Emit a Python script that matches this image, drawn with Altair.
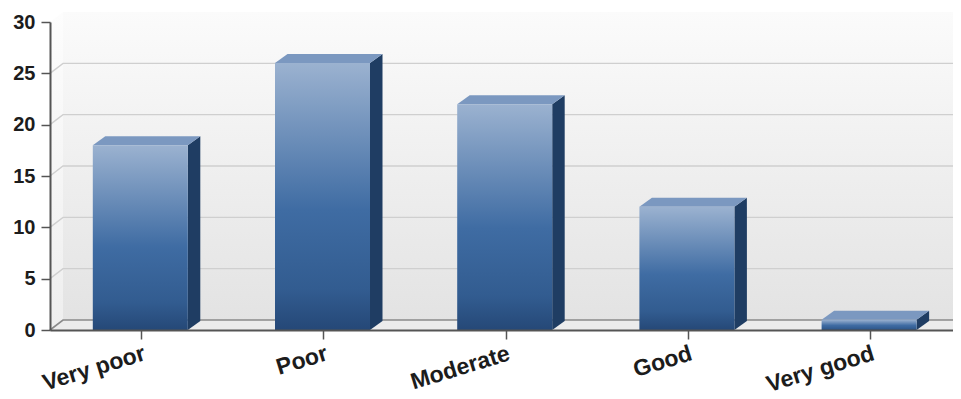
import altair as alt
import pandas as pd

categories = ["Very poor", "Poor", "Moderate", "Good", "Very good"]
values = [18, 26, 22, 12, 1]
y_ticks = [0, 5, 10, 15, 20, 25, 30]

WIDTH = 903
HEIGHT = 308
BAND = 182.2
PX_Y = HEIGHT / 30
DX = 13 / BAND            # depth of the walls, in x-scale units
DY = 10 / PX_Y            # depth of the walls, in y-scale units
BAR_DX = 12.5 / BAND      # depth of the bars
BAR_DY = 9 / PX_Y
HALF = 47.5 / BAND
BAR_SHIFT = -0.8 / BAND
NCAT = len(categories)
XMAX = WIDTH / BAND
YMAX = y_ticks[-1]

label_expr = "[" + ",".join(f"'{c}'" for c in categories) + "][floor(datum.value)]"
x_axis = alt.Axis(
    title=None, values=[i + 0.5 for i in range(NCAT)], labelExpr=label_expr,
    labelAngle=343, labelAlign="right", labelBaseline="top",
    labelFont="Liberation Sans", labelFontWeight="bold", labelFontSize=23,
    labelColor="#1c1c1c", labelPadding=3, labelOverlap=False, labelBound=False, labelFlush=False,
    tickSize=9, tickColor="#555555", tickWidth=1.5,
    domainColor="#555555", domainWidth=2, grid=False, zindex=1)
y_axis = alt.Axis(
    title=None, values=y_ticks, labelFont="Liberation Sans", labelFontWeight="bold",
    labelFontSize=20, labelColor="#1c1c1c", labelPadding=6,
    tickSize=9, tickColor="#555555", tickWidth=1.5,
    domainColor="#555555", domainWidth=2, grid=False, zindex=1)

x_scale = alt.Scale(domain=[0, XMAX], nice=False, zero=False)
y_scale = alt.Scale(domain=[0, YMAX], nice=False)
X = alt.X("x:Q", scale=x_scale, axis=x_axis)
Y = alt.Y("y:Q", scale=y_scale, axis=y_axis)
Y2 = alt.Y2("y2:Q")


def grad(stops, x1=0, x2=0, y1=0, y2=1):
    return alt.Gradient(
        gradient="linear", x1=x1, x2=x2, y1=y1, y2=y2,
        stops=[alt.GradientStop(color=c, offset=o) for o, c in stops],
    )


# walls and floor
back = alt.Chart(pd.DataFrame([{"x": DX, "x2": XMAX, "y": YMAX + DY, "y2": DY}])).mark_rect(
    color=grad([(0, "#fbfbfb"), (1, "#e3e3e3")])
).encode(x=X, x2="x2:Q", y=Y, y2=Y2)

left = alt.Chart(pd.DataFrame([
    {"x": 0, "y": YMAX, "y2": 0},
    {"x": DX, "y": YMAX + DY, "y2": DY},
])).mark_area(color=grad([(0, "#fdfdfd"), (1, "#eeeeee")])).encode(x=X, y=Y, y2=Y2)

floor = alt.Chart(pd.DataFrame([
    {"x": 0, "y": 0, "y2": 0},
    {"x": DX, "y": DY, "y2": 0},
    {"x": XMAX, "y": DY, "y2": 0},
])).mark_area(color="#ececec").encode(x=X, y=Y, y2=Y2)

# grid lines run across the left wall and then along the back wall
grid_rows = []
for v in y_ticks[:-1]:
    grid_rows += [
        {"v": v, "o": 0, "x": 0, "y": v},
        {"v": v, "o": 1, "x": DX, "y": v + DY},
        {"v": v, "o": 2, "x": XMAX, "y": v + DY},
    ]
grid_df = pd.DataFrame(grid_rows)
grid = alt.Chart(grid_df[grid_df.v > 0]).mark_line(color="#cfcfcf", strokeWidth=1.4).encode(
    x=X, y=Y, detail="v:N", order="o:Q")
base_line = alt.Chart(grid_df[grid_df.v == 0]).mark_line(color="#8a8a8a", strokeWidth=1.6).encode(
    x=X, y=Y, detail="v:N", order="o:Q")

# bars
front_rows, top_rows, side_rows = [], [], []
for i, (c, v) in enumerate(zip(categories, values)):
    xl, xr = i + 0.5 + BAR_SHIFT - HALF, i + 0.5 + BAR_SHIFT + HALF
    front_rows.append({"c": c, "x": xl, "x2": xr, "y": v, "y2": 0})
    top_rows += [
        {"c": c, "x": xl, "y": v, "y2": v},
        {"c": c, "x": xl + BAR_DX, "y": v + BAR_DY, "y2": v},
        {"c": c, "x": xr, "y": v + BAR_DY, "y2": v},
        {"c": c, "x": xr + BAR_DX, "y": v + BAR_DY, "y2": v + BAR_DY},
    ]
    side_rows += [
        {"c": c, "x": xr, "y": v, "y2": 0},
        {"c": c, "x": xr + BAR_DX, "y": v + BAR_DY, "y2": BAR_DY},
    ]

side = alt.Chart(pd.DataFrame(side_rows)).mark_area(color="#1f3d63").encode(
    x=X, y=Y, y2=Y2, detail="c:N")

top = alt.Chart(pd.DataFrame(top_rows)).mark_area(color="#7b98c0").encode(
    x=X, y=Y, y2=Y2, detail="c:N")

front = alt.Chart(pd.DataFrame(front_rows)).mark_rect(
    color=grad([(0, "#9bb2d0"), (0.55, "#3f6ca3"), (0.85, "#325c90"), (1, "#254877")])
).encode(x=X, x2="x2:Q", y=Y, y2=Y2)

chart = alt.layer(back, left, floor, grid, base_line, side, top, front).properties(
    width=WIDTH, height=HEIGHT,
    padding={"left": 42, "top": 14, "right": 0, "bottom": 68},
    autosize=alt.AutoSizeParams(type="none"),
    background="#ffffff",
).configure_view(stroke=None)

chart.save("out.html", embed_options={"renderer": "svg", "actions": False})
